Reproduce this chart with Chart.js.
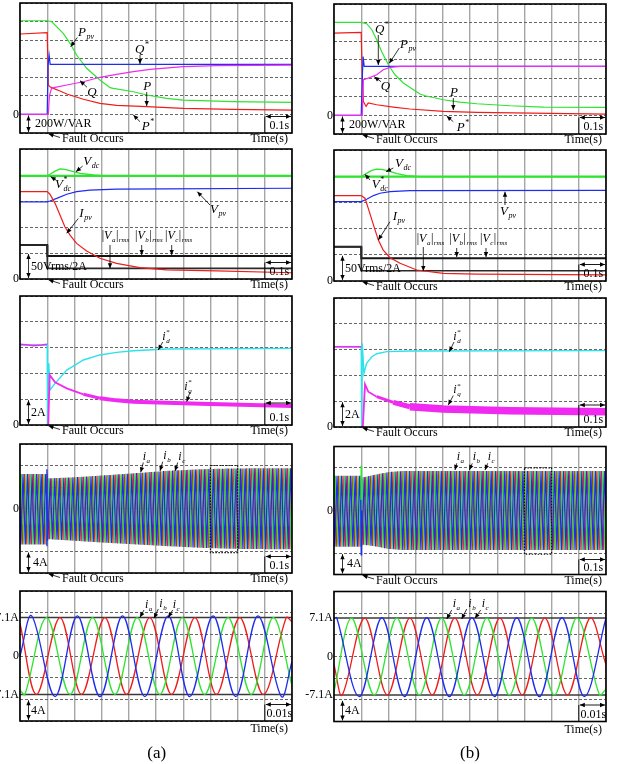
<!DOCTYPE html>
<html>
<head>
<meta charset="utf-8">
<script src="https://cdn.jsdelivr.net/npm/chart.js@4.4.0/dist/chart.umd.min.js"></script>
<style>
  body { margin: 0; background: #fff; }
  #page { position: relative; width: 617px; height: 764px; overflow: hidden; background: #fff; }
  #page canvas { position: absolute; left: 0; top: 0; }
</style>
</head>
<body>
<div id="page"></div>
<script>
// Zeile 1: Leistung in W/VAR, Zeit in s
const t1a_ppv = [0, 0.1, 0.116, 0.159, 0.184, 0.208, 0.245, 0.294, 0.331, 0.343, 0.417, 0.466, 0.539, 0.6, 0.662, 0.784, 1.0];
const ppv1a   = [1009, 1009, 1000, 873, 766, 640, 497, 370, 288, 281, 244, 209, 173, 155, 148, 137, 130];
const t1a_p   = [0, 0.1, 0.104, 0.11, 0.123, 0.147, 0.172, 0.233, 0.294, 0.355, 0.466, 0.6, 0.784, 1.0];
const p1a     = [866, 880, 316, 298, 281, 252, 220, 163, 120, 98, 83, 66, 55, 47];
const t1a_q   = [0, 0.1, 0.104, 0.108, 0.116, 0.129, 0.172, 0.233, 0.294, 0.355, 0.417, 0.478, 0.6, 0.723, 1.0];
const q1a     = [0, 0, 0, 200, 281, 292, 317, 352, 400, 432, 460, 486, 514, 525, 532];
const t1a_qr  = [0, 0.1, 0.103, 0.107, 0.111, 1.0];
const qref1a  = [0, 0, 520, 640, 540, 540];

const t1b_ppv = [0, 0.1, 0.12, 0.139, 0.157, 0.175, 0.2, 0.224, 0.255, 0.292, 0.316, 0.335, 0.402, 0.463, 0.525, 0.647, 0.77, 1.0];
const ppv1b   = [1002, 1002, 988, 923, 815, 689, 546, 438, 349, 277, 230, 212, 169, 144, 126, 104, 90, 86];
const t1b_p   = [0, 0.1, 0.103, 0.108, 0.118, 0.126, 0.157, 0.218, 0.279, 0.402, 0.525, 1.0];
const p1b     = [887, 894, 500, 150, 97, 134, 115, 90, 69, 43, 32, 15];
const t1b_q   = [0, 0.1, 0.104, 0.108, 0.126, 0.157, 0.181, 0.206, 0.243, 1.0];
const q1b     = [0, 0, 0, 384, 402, 438, 492, 517, 528, 528];
const t1b_qr  = [0, 0.1, 0.104, 0.107, 0.111, 1.0];
const qref1b  = [0, 0, 400, 635, 528, 528];

// Zeile 2: in Kästchen (50Vrms/2A pro Kästchen)
const t2_ref  = [0, 1.0];
const t2_rms  = [0, 0.1, 0.1005, 1.0];
const t2a_vdc = [0, 0.1, 0.11, 0.129, 0.147, 0.165, 0.19, 0.221, 0.27, 0.319, 1.0];
const vdc2a   = [3.97, 3.97, 4.03, 4.15, 4.23, 4.22, 4.15, 4.06, 4.0, 3.97, 3.97];
const vdcRef2a = [3.97, 3.97];
const t2a_vpv = [0, 0.1, 0.11, 0.135, 0.172, 0.208, 0.257, 0.355, 0.539, 1.0];
const vpv2a   = [2.97, 2.97, 3.0, 3.1, 3.26, 3.36, 3.42, 3.46, 3.47, 3.49];
const t2a_ipv = [0, 0.1, 0.11, 0.129, 0.147, 0.165, 0.184, 0.208, 0.245, 0.294, 0.355, 0.44, 0.539, 0.723, 1.0];
const ipv2a   = [3.36, 3.36, 3.26, 2.91, 2.46, 2.01, 1.69, 1.37, 1.08, 0.8, 0.6, 0.44, 0.35, 0.31, 0.24];
const va2a    = [1.31, 1.31, 0.41, 0.41];
const vbc2a   = [1.31, 1.31, 0.88, 0.88];

const t2b_vdc = [0, 0.1, 0.12, 0.139, 0.157, 0.175, 0.2, 0.231, 0.267, 0.316, 1.0];
const vdc2b   = [3.98, 3.98, 4.11, 4.22, 4.27, 4.26, 4.2, 4.1, 4.02, 3.98, 3.98];
const vdcRef2b = [3.98, 3.98];
const t2b_vpv = [0, 0.1, 0.12, 0.145, 0.169, 0.206, 0.279, 1.0];
const vpv2b   = [3.03, 3.03, 3.12, 3.26, 3.35, 3.41, 3.45, 3.46];
const t2b_ipv = [0, 0.1, 0.114, 0.126, 0.145, 0.163, 0.181, 0.206, 0.243, 0.304, 0.402, 0.525, 1.0];
const ipv2b   = [3.26, 3.26, 3.16, 2.77, 2.14, 1.56, 1.18, 0.89, 0.68, 0.42, 0.29, 0.26, 0.23];
const va2b    = [1.31, 1.31, 0.39, 0.39];
const vbc2b   = [1.31, 1.31, 0.87, 0.87];

// Zeile 3: Strom in A
const t3a_id = [0, 0.1, 0.101, 0.106, 0.11, 0.129, 0.172, 0.233, 0.294, 0.355, 0.417, 0.539, 1.0];
const id3a   = [6.2, 6.2, 0, 4.78, 2.71, 3.23, 4.26, 5.04, 5.43, 5.63, 5.76, 5.89, 5.94];
const t3a_iq = [0, 0.03, 0.05, 0.08, 0.1, 0.1005, 0.104, 0.109, 0.129, 0.172, 0.233, 0.294, 0.355, 0.417, 0.539, 0.662, 1.0];
const iq3a   = [6.26, 6.2, 6.15, 6.2, 6.26, 0, 0, 3.88, 3.31, 2.84, 2.38, 2.07, 1.91, 1.81, 1.73, 1.65, 1.47];

const t3b_id = [0, 0.1, 0.102, 0.104, 0.11, 0.12, 0.139, 0.157, 0.194, 0.279, 1.0];
const id3b   = [6.22, 6.22, 0, 6.49, 4.16, 4.94, 5.45, 5.68, 5.84, 5.89, 5.92];
const t3b_iq = [0, 0.1, 0.1005, 0.106, 0.114, 0.126, 0.157, 0.218, 0.279, 0.402, 0.647, 1.0];
const iq3b   = [6.22, 6.22, 0, 0, 3.31, 2.74, 2.35, 1.91, 1.57, 1.40, 1.26, 1.19];

// Zeile 4: Hüllkurve der Netzströme in A (60 Hz)
const lineFreq = 60;
const t4a_env = [0, 0.1, 0.102, 0.2, 0.29, 0.42, 0.54, 0.66, 0.78, 1.0];
const up4a    = [6.4, 6.4, 5.6, 5.8, 6.1, 6.55, 7.0, 7.3, 7.45, 7.5];
const lo4a    = [-6.7, -6.7, -5.7, -6.0, -6.3, -6.66, -7.0, -7.3, -7.5, -7.6];
const t4b_env = [0, 0.1, 0.105, 0.15, 0.2, 0.25, 1.0];
const up4b    = [6.5, 6.5, 6.2, 6.7, 7.2, 7.4, 7.4];
const lo4b    = [-6.8, -6.8, -6.4, -6.7, -7.2, -7.4, -7.4];
const t4a_spk = [0.097, 0.099, 0.101];
const bSpk4a  = [-6.9, 7.3, -6.0];
const t4b_spk = [0.0985, 0.1, 0.1015];
const gSpk4b  = [-2, 8.4, 0];
const bSpk4b  = [2, -8.3, 0];

// Zeile 5: Extremwerte der Phasenströme in A, Zeit in s
const t5_lim = [0, 0.1];
const lim5p  = [7.1, 7.1];
const lim5n  = [-7.1, -7.1];
const t5a_b = [0, 0.0043, 0.0129, 0.0211, 0.0294, 0.0377, 0.0459, 0.0545, 0.0624, 0.071, 0.0793, 0.0875, 0.0961, 0.1];
const b5a   = [0, 7.4, -7.5, 7.4, -7.5, 7.4, -7.5, 7.4, -7.5, 7.4, -7.5, 7.4, -7.5, -1.0];
const t5a_r = [0, 0.0061, 0.0147, 0.0226, 0.0312, 0.0392, 0.0477, 0.0557, 0.0643, 0.0722, 0.0808, 0.0894, 0.0979, 0.1];
const r5a   = [6.0, -7.1, 7.1, -7.1, 7.1, -7.1, 7.1, -7.1, 7.1, -7.1, 7.1, -7.1, 7.1, 6.3];
const t5a_g = [0, 0.0018, 0.0098, 0.0184, 0.0267, 0.0349, 0.0431, 0.0514, 0.0597, 0.0679, 0.0765, 0.085, 0.093, 0.1];
const g5a   = [-6.3, -7.1, 7.1, -7.1, 7.1, -7.1, 7.1, -7.1, 7.1, -7.1, 7.1, -7.1, 7.1, -5.5];

const t5b_b = [0, 0.001, 0.0093, 0.0176, 0.0259, 0.0341, 0.0424, 0.0507, 0.059, 0.0672, 0.0755, 0.0838, 0.092, 0.1];
const b5b   = [7.0, 7.15, -7.4, 7.15, -7.4, 7.15, -7.4, 7.15, -7.4, 7.15, -7.4, 7.15, -7.4, 7.1];
const t5b_g = [0, 0.0065, 0.0148, 0.0231, 0.0314, 0.0396, 0.0479, 0.0562, 0.0645, 0.0727, 0.081, 0.0893, 0.0976, 0.1];
const g5b   = [-6.5, 7.1, -7.1, 7.1, -7.1, 7.1, -7.1, 7.1, -7.1, 7.1, -7.1, 7.1, -7.1, -6.0];
const t5b_r = [0, 0.003, 0.0113, 0.0196, 0.0279, 0.0361, 0.0444, 0.0527, 0.061, 0.0692, 0.0775, 0.0858, 0.0941, 0.1];
const r5b   = [-1.5, -7.1, 7.1, -7.1, 7.1, -7.1, 7.1, -7.1, 7.1, -7.1, 7.1, -7.1, 7.1, -1.5];


// --- Hilfsfunktionen ---
const W = 617, H = 764;
const SERIF = '"Liberation Serif", "Times New Roman", serif';
const COL = { green: '#2ee42e', red: '#f01c1c', blue: '#1e2cf0', magenta: '#f02af0', cyan: '#2ee2ea', black: '#151515' };

function pts(t, v) {
    return t.map((x, i) => ({ x: x, y: v[i] }));
}

function line(t, v, color, width, tension) {
    return { data: pts(t, v), borderColor: color, borderWidth: width || 1.2, pointRadius: 0, tension: tension || 0, fill: false };
}

// Teilstück einer Messreihe (für unterschiedliche Strichstärke)
function seg(t, v, i0, i1, color, width) {
    return line(t.slice(i0, i1), v.slice(i0, i1), color, width);
}

function envAt(ts, vs, t) {
    if (t <= ts[0]) return vs[0];
    for (let i = 1; i < ts.length; i++) {
        if (t <= ts[i]) {
            const f = (t - ts[i - 1]) / (ts[i] - ts[i - 1]);
            return vs[i - 1] + f * (vs[i] - vs[i - 1]);
        }
    }
    return vs[vs.length - 1];
}

// Spitzenwerte abwechselnd oben/unten entlang der Hüllkurve
function phaseWave(tEnv, up, lo, shift, color) {
    const half = 0.5 / lineFreq;
    const data = [];
    for (let k = 0; ; k++) {
        const t = shift - 2 * half + k * half;
        if (t > 1.0 + half) break;
        data.push({ x: t, y: envAt(tEnv, k % 2 === 0 ? up : lo, t) });
    }
    return { data: data, borderColor: color, borderWidth: 1.2, pointRadius: 0, tension: 0, fill: false };
}

function drawRich(ctx, x, y, parts, m) {
    m = m || 13;
    const s = Math.round(m * 0.62);
    let cx = x;
    ctx.textAlign = 'left';
    ctx.textBaseline = 'alphabetic';
    parts.forEach(([txt, st]) => {
        if (st === 'I' || st === 'N') {
            ctx.font = (st === 'I' ? 'italic ' : '') + m + 'px ' + SERIF;
            ctx.fillText(txt, cx, y);
            cx += ctx.measureText(txt).width;
        } else if (st === 'sub') {
            ctx.font = 'italic ' + s + 'px ' + SERIF;
            ctx.fillText(txt, cx + 0.5, y + 3);
            cx += ctx.measureText(txt).width + 1;
        } else if (st === 'sup') {
            ctx.font = s + 'px ' + SERIF;
            ctx.fillText(txt, cx + 0.5, y - m * 0.45);
            cx += ctx.measureText(txt).width + 1;
        } else if (st === 'ss') {
            ctx.font = s + 'px ' + SERIF;
            ctx.fillText(txt[0], cx + 0.5, y - m * 0.45);
            const w1 = ctx.measureText(txt[0]).width;
            ctx.font = 'italic ' + s + 'px ' + SERIF;
            ctx.fillText(txt[1], cx + 0.5, y + 3);
            cx += Math.max(w1, ctx.measureText(txt[1]).width) + 1;
        }
    });
}

function head(ctx, x1, y1, x2, y2) {
    const a = Math.atan2(y2 - y1, x2 - x1), L = 5, w = 2.2;
    ctx.beginPath();
    ctx.moveTo(x2, y2);
    ctx.lineTo(x2 - L * Math.cos(a) + w * Math.sin(a), y2 - L * Math.sin(a) - w * Math.cos(a));
    ctx.lineTo(x2 - L * Math.cos(a) - w * Math.sin(a), y2 - L * Math.sin(a) + w * Math.cos(a));
    ctx.closePath();
    ctx.fill();
}

function arrow(ctx, a, both) {
    ctx.beginPath();
    ctx.moveTo(a[0], a[1]);
    ctx.lineTo(a[2], a[3]);
    ctx.stroke();
    head(ctx, a[0], a[1], a[2], a[3]);
    if (both) head(ctx, a[2], a[3], a[0], a[1]);
}

function text(ctx, s, x, y, align, base, size) {
    ctx.font = (size || 12) + 'px ' + SERIF;
    ctx.textAlign = align || 'left';
    ctx.textBaseline = base || 'alphabetic';
    ctx.fillText(s, x, y);
}

// --- Beschriftungen ---
const L_PPV = [['P', 'I'], ['pv', 'sub']];
const L_QS = [['Q', 'I'], ['*', 'sup']];
const L_Q = [['Q', 'I']];
const L_P = [['P', 'I']];
const L_PS = [['P', 'I'], ['*', 'sup']];
const L_VDC = [['V', 'I'], ['dc', 'sub']];
const L_VDCS = [['V', 'I'], [['*', 'dc'], 'ss']];
const L_IPV = [['I', 'I'], ['pv', 'sub']];
const L_VPV = [['V', 'I'], ['pv', 'sub']];
const L_ID = [['i', 'I'], [['*', 'd'], 'ss']];
const L_IQ = [['i', 'I'], [['*', 'q'], 'ss']];
const rmsLab = c => [['|', 'N'], ['V', 'I'], [c, 'sub'], ['|', 'N'], ['rms', 'sub']];
const iLab = c => [['i', 'I'], [c, 'sub']];

// --- Deko-Plugin: Rahmen, Pfeile, Texte ---
function deco(p) {
    return {
        id: 'deco',
        afterDatasetsDraw(chart) {
            const ctx = chart.ctx, a = chart.chartArea, xs = chart.scales.x, ys = chart.scales.y;
            ctx.save();

            if (p.zoomBox) {
                ctx.strokeStyle = '#111';
                ctx.lineWidth = 1.2;
                ctx.setLineDash([1.5, 1.5]);
                const x1 = xs.getPixelForValue(0.7), x2 = xs.getPixelForValue(0.8);
                const y1 = ys.getPixelForValue(8), y2 = ys.getPixelForValue(-8.2);
                ctx.strokeRect(x1, y1, x2 - x1, y2 - y1);
                ctx.setLineDash([]);
            }

            ctx.strokeStyle = '#000';
            ctx.lineWidth = 1.6;
            ctx.strokeRect(a.left, a.top, a.right - a.left, a.bottom - a.top);

            ctx.fillStyle = '#000';
            ctx.strokeStyle = '#000';
            ctx.lineWidth = 0.8;

            // Achsenwerte
            p.axisLabels.forEach(([v, s]) => text(ctx, s, a.left - 1, ys.getPixelForValue(v), 'right', 'middle'));

            // senkrechter Massstab
            const yTop = ys.getPixelForValue(p.yr[0] + p.yr[2]);
            const xv = a.left + 8.5;
            arrow(ctx, [xv, yTop + 1, xv, a.bottom - 1], true);
            text(ctx, p.unit, a.left + (p.unitDx || 11), (yTop + a.bottom) / 2 + 0.5, 'left', 'middle');

            // waagrechter Massstab
            const x9 = xs.getPixelForValue(p.xr[1] - p.xr[2]);
            const yh = a.bottom - (p.barDy || 16.5);
            ctx.lineWidth = 0.9;
            ctx.beginPath();
            ctx.moveTo(x9, yh);
            ctx.lineTo(x9, a.bottom);
            ctx.stroke();
            arrow(ctx, [x9 + 1, yh, a.right - 1, yh], true);
            text(ctx, p.tdiv, (x9 + a.right) / 2 + 1, a.bottom - 4, 'center');

            ctx.lineWidth = 0.8;
            text(ctx, 'Time(s)', a.right - 4, a.bottom + (p.timeDy || 9), 'right');
            if (p.fault) {
                text(ctx, 'Fault Occurs', a.left + 42, a.bottom + 9);
                arrow(ctx, [a.left + 40, a.bottom + 4.5, a.left + 28.5, a.bottom + 0.8]);
            }

            (p.labels || []).forEach(([parts, x, y, arr, m]) => {
                drawRich(ctx, x, y, parts, m);
                if (arr) arrow(ctx, arr);
            });

            (p.extra || []).forEach(([s, x, y, size]) => text(ctx, s, x, y, 'center', 'alphabetic', size));
            ctx.restore();
        }
    };
}

// --- Panels ---
const panels = [
    {
        box: [20, 3, 292, 133], xr: [0, 1, 0.1], yr: [-200, 1200, 200], unit: '200W/VAR', unitDx: 15, tdiv: '0.1s', fault: true,
        axisLabels: [[0, '0']],
        sets: [
            line(t1a_q, q1a, COL.magenta),
            line(t1a_qr, qref1a, COL.blue),
            line(t1a_p, p1a, COL.red),
            line(t1a_ppv, ppv1a, COL.green)
        ],
        labels: [
            [L_PPV, 78, 36, [77.3, 37.5, 70.7, 46.7]],
            [L_QS, 135, 52.5, [140, 55, 140, 64]],
            [L_Q, 87.3, 96, [87, 87.3, 80, 80.7]],
            [L_P, 143.3, 90, [146.7, 92, 146.7, 106]],
            [L_PS, 141.7, 130, [140, 121.7, 133.3, 115]]
        ]
    },
    {
        box: [334, 4, 606, 134], xr: [0, 1, 0.1], yr: [-200, 1200, 200], unit: '200W/VAR', unitDx: 15, tdiv: '0.1s', fault: true,
        axisLabels: [[0, '0']],
        sets: [
            line(t1b_q, q1b, COL.magenta),
            line(t1b_qr, qref1b, COL.blue),
            line(t1b_p, p1b, COL.red),
            line(t1b_ppv, ppv1b, COL.green)
        ],
        labels: [
            [L_QS, 375, 32.5, [378.3, 35, 378.3, 65]],
            [L_PPV, 400, 47.5, [399.3, 48, 389.3, 63.3]],
            [L_Q, 380.7, 90, [381, 81.7, 374.3, 76.7]],
            [L_P, 450, 96, [453.3, 98, 453.3, 110]],
            [L_PS, 456.7, 130.5, [453.3, 121.7, 446.7, 116]]
        ]
    },
    {
        box: [20, 149, 292, 279], xr: [0, 1, 0.1], yr: [0, 5, 1], unit: '50Vrms/2A', tdiv: '0.1s', fault: true,
        axisLabels: [[0, '0']],
        sets: [
            line(t2a_vdc, vdc2a, COL.green, 1.3),
            line(t2_ref, vdcRef2a, COL.green, 2.2),
            line(t2a_ipv, ipv2a, COL.red),
            line(t2a_vpv, vpv2a, COL.blue),
            line(t2_rms, va2a, '#2a2a2a', 1.6),
            line(t2_rms, vbc2a, COL.black, 2)
        ],
        labels: [
            [L_VDC, 83.3, 164.5, [82.7, 166, 76, 171.7]],
            [L_VDCS, 55, 188, [56, 180, 50.7, 176.7]],
            [L_IPV, 79.3, 216.5, [78.3, 218.5, 66.7, 233.3]],
            [L_VPV, 210, 213, [210, 205, 197.3, 191.7]],
            [rmsLab('a'), 101.7, 239, [110, 245, 110, 268.3], 12],
            [rmsLab('b'), 135, 239, [141.7, 245, 141.7, 255], 12],
            [rmsLab('c'), 165, 239, [171.7, 245, 171.7, 255], 12]
        ]
    },
    {
        box: [334, 150, 606, 281], xr: [0, 1, 0.1], yr: [0, 5, 1], unit: '50Vrms/2A', tdiv: '0.1s', fault: true,
        axisLabels: [[0, '0']],
        sets: [
            line(t2b_vdc, vdc2b, COL.green, 1.3),
            line(t2_ref, vdcRef2b, COL.green, 2.2),
            line(t2b_ipv, ipv2b, COL.red),
            line(t2b_vpv, vpv2b, COL.blue),
            line(t2_rms, va2b, '#2a2a2a', 1.6),
            line(t2_rms, vbc2b, COL.black, 2)
        ],
        labels: [
            [L_VDC, 395, 167, [393.3, 168, 386, 171.7]],
            [L_VDCS, 371.7, 188, [370, 180, 365, 174.3]],
            [L_IPV, 392.7, 219.5, [390, 221.7, 378.3, 240]],
            [L_VPV, 500, 214.5, [505, 205, 505, 191.7]],
            [rmsLab('a'), 416.7, 242, [423.3, 247, 423.3, 271], 12],
            [rmsLab('b'), 449.3, 242, [456.7, 248, 456.7, 257], 12],
            [rmsLab('c'), 480, 242, [486, 248, 486, 257], 12]
        ]
    },
    {
        box: [20, 296, 292, 425], xr: [0, 1, 0.1], yr: [0, 10, 2], unit: '2A', tdiv: '0.1s', fault: true, barDy: 22,
        axisLabels: [[0, '0']],
        sets: [
            seg(t3a_iq, iq3a, 0, 5, COL.magenta, 1.6),
            seg(t3a_iq, iq3a, 5, 11, COL.magenta, 1.8),
            seg(t3a_iq, iq3a, 10, 12, COL.magenta, 3),
            seg(t3a_iq, iq3a, 11, 17, COL.magenta, 4),
            line(t3a_id, id3a, COL.cyan, 1.4)
        ],
        labels: [
            [L_ID, 162.3, 339.5, [162.7, 342, 158.3, 350], 12],
            [L_IQ, 184.3, 389.5, [190, 392, 186.7, 401.7], 12]
        ]
    },
    {
        box: [334, 298, 606, 427], xr: [0, 1, 0.1], yr: [0, 10, 2], unit: '2A', tdiv: '0.1s', fault: true, barDy: 22,
        axisLabels: [[0, '0']],
        sets: [
            seg(t3b_iq, iq3b, 0, 2, COL.magenta, 1.6),
            seg(t3b_iq, iq3b, 2, 7, COL.magenta, 1.8),
            seg(t3b_iq, iq3b, 6, 8, COL.magenta, 3),
            seg(t3b_iq, iq3b, 7, 9, COL.magenta, 5),
            seg(t3b_iq, iq3b, 8, 12, COL.magenta, 7.5),
            line(t3b_id, id3b, COL.cyan, 1.4)
        ],
        labels: [
            [L_ID, 453.3, 339.5, [454, 342, 449.3, 351.7], 12],
            [L_IQ, 453.3, 393, [453.3, 395.5, 448.3, 405], 12]
        ]
    },
    {
        box: [20, 444, 292, 573], xr: [0, 1, 0.1], yr: [-12, 12, 4], unit: '4A', unitDx: 13, tdiv: '0.1s', fault: true, zoomBox: true,
        axisLabels: [[0, '0']],
        sets: [
            line(t4a_spk, bSpk4a, COL.blue, 1.3),
            phaseWave(t4a_env, up4a, lo4a, 2 / 3 / lineFreq, COL.blue),
            phaseWave(t4a_env, up4a, lo4a, 1 / 3 / lineFreq, COL.green),
            phaseWave(t4a_env, up4a, lo4a, 0, COL.red)
        ],
        labels: [
            [iLab('a'), 142.7, 460, [143.3, 462.5, 140.7, 472.3], 12],
            [iLab('b'), 163.3, 459, [162.7, 461.7, 160, 471], 12],
            [iLab('c'), 178.3, 460, [177.7, 462.5, 175, 471], 12]
        ]
    },
    {
        box: [334, 446.5, 606, 574.5], xr: [0, 1, 0.1], yr: [-12, 12, 4], unit: '4A', unitDx: 13, tdiv: '0.1s', fault: true, zoomBox: true, barDy: 15,
        axisLabels: [[0, '0']],
        sets: [
            line(t4b_spk, bSpk4b, COL.blue, 1.3),
            line(t4b_spk, gSpk4b, COL.green, 1.3),
            phaseWave(t4b_env, up4b, lo4b, 2 / 3 / lineFreq, COL.blue),
            phaseWave(t4b_env, up4b, lo4b, 1 / 3 / lineFreq, COL.green),
            phaseWave(t4b_env, up4b, lo4b, 0, COL.red)
        ],
        labels: [
            [iLab('a'), 456.7, 460, [456.7, 463.3, 455, 470], 12],
            [iLab('b'), 472.7, 460, [472.3, 463.3, 469.3, 470], 12],
            [iLab('c'), 487.7, 460, [487.7, 463.3, 485, 470], 12]
        ]
    },
    {
        box: [20, 591, 292, 721], xr: [0, 0.1, 0.01], yr: [-12, 12, 4], unit: '4A', tdiv: '0.01s', fault: false, timeDy: 11,
        axisLabels: [[7.1, '7.1A'], [0, '0'], [-7.1, '-7.1A']],
        sets: [
            line(t5a_b, b5a, COL.blue, 1.3, 0.35),
            line(t5a_g, g5a, COL.green, 1.3, 0.35),
            line(t5a_r, r5a, COL.red, 1.3, 0.35),
            line(t5_lim, lim5p, '#3a3a3a', 1.6),
            line(t5_lim, lim5n, '#3a3a3a', 1.6)
        ],
        labels: [
            [iLab('a'), 145, 607.5, [144, 610, 140, 617.3], 12],
            [iLab('b'), 159.3, 607, [158.3, 609, 154, 618.3], 12],
            [iLab('c'), 172.7, 608, [172.7, 610, 168.3, 617.3], 12]
        ],
        extra: [['(a)', 156.7, 758, 17]]
    },
    {
        box: [334, 591.5, 606, 721.5], xr: [0, 0.1, 0.01], yr: [-12, 12, 4], unit: '4A', tdiv: '0.01s', fault: false, timeDy: 11,
        axisLabels: [[7.1, '7.1A'], [0, '0'], [-7.1, '-7.1A']],
        sets: [
            line(t5b_b, b5b, COL.blue, 1.3, 0.35),
            line(t5b_g, g5b, COL.green, 1.3, 0.35),
            line(t5b_r, r5b, COL.red, 1.3, 0.35),
            line(t5_lim, lim5p, '#3a3a3a', 1.6),
            line(t5_lim, lim5n, '#3a3a3a', 1.6)
        ],
        labels: [
            [iLab('a'), 452.7, 607, [451.7, 610, 446.7, 619], 12],
            [iLab('b'), 468.3, 607, [466.7, 609, 461.7, 619], 12],
            [iLab('c'), 481.7, 607, [480.7, 610, 475, 618.3], 12]
        ],
        extra: [['(b)', 470, 758, 17]]
    }
];

// --- Diagramme anlegen ---
function makeChart(p) {
    const cv = document.createElement('canvas');
    cv.width = W;
    cv.height = H;
    document.getElementById('page').appendChild(cv);

    new Chart(cv, {
        type: 'line',
        data: { datasets: p.sets },
        options: {
            responsive: false,
            animation: false,
            events: [],
            devicePixelRatio: 1,
            layout: { padding: { left: p.box[0], top: p.box[1], right: W - p.box[2], bottom: H - p.box[3] } },
            plugins: { legend: { display: false }, tooltip: { enabled: false } },
            scales: {
                x: {
                    type: 'linear', min: 0, max: p.xr[1],
                    ticks: { display: false, stepSize: p.xr[2], autoSkip: false },
                    grid: { color: '#a6a6a6', lineWidth: 1.4, drawTicks: false },
                    border: { display: false }
                },
                y: {
                    type: 'linear', min: p.yr[0], max: p.yr[1],
                    ticks: { display: false, stepSize: p.yr[2], autoSkip: false },
                    grid: { color: '#666', lineWidth: 1, drawTicks: false },
                    border: { display: false, dash: [3, 2] }
                }
            }
        },
        plugins: [deco(p)]
    });
}

document.addEventListener("DOMContentLoaded", () => {
    panels.forEach(makeChart);
});
</script>
</body>
</html>
